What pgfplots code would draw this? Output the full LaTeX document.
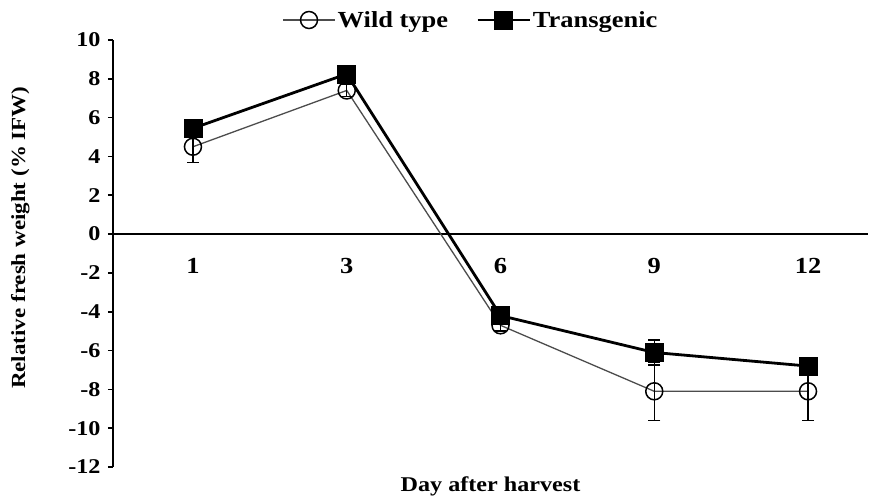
\documentclass[border=0pt]{standalone}
\usepackage{pgfplots}
\pgfplotsset{compat=1.18}
\usepackage{fontspec}
\setmainfont{Liberation Serif}[FakeStretch=1.15]
\begin{document}
\begin{tikzpicture}
\begin{axis}[
  scale only axis,
  width=755pt, height=427pt,
  xmin=-0.52, xmax=4.39,
  ymin=-12, ymax=10,
  axis x line=middle,
  axis y line=left,
  axis line style={-, line width=2pt},
  every inner x axis line/.append style={-, line width=2pt},
  every outer y axis line/.append style={-, line width=2pt},
  xtick={0,1,2,3,4},
  xticklabels={1,3,6,9,12},
  ytick={-12,-10,...,10},
  y tick label style={xshift=-4pt},
  xtick style={draw=none},
  ytick style={line width=1.6pt, black},
  major tick length=5pt,
  tick align=outside,
  /pgf/number format/assume math mode=true,
  tick label style={font=\fontsize{21}{24}\selectfont\bfseries},
  x tick label style={yshift=-16pt, font=\fontsize{23}{26}\selectfont\bfseries},
  xlabel style={font=\fontsize{21}{24}\selectfont\bfseries},
  ylabel style={font=\fontsize{20}{24}\selectfont\bfseries},
  xlabel={Day after harvest},
  xlabel style={at={(axis description cs:0.5,0)}, anchor=north, yshift=-6pt},
  ylabel={Relative fresh weight (\% IFW)},
  ylabel style={at={(axis description cs:0,0.537)}, anchor=south, rotate=0, yshift=80pt},
  clip=false,
  legend columns=2,
  legend style={at={(axis description cs:0.474,1)}, anchor=center, draw=none, fill=none,
    font=\fontsize{23}{26}\selectfont\bfseries, yshift=20pt,
    /tikz/every even column/.append style={column sep=26pt}},
  legend image code/.code={
    \draw[mark repeat=2,mark phase=2] plot coordinates {(0pt,0pt) (26pt,0pt) (52pt,0pt)};
  },
]
\addplot[color=black!70, line width=1.3pt, mark=o, mark size=8.5pt,
  mark options={draw=black, line width=1.5pt, fill=white, solid},
  error bars/.cd, y dir=both, y explicit,
  error bar style={line width=1.3pt, black},
  error mark options={rotate=90, mark size=6pt, line width=1.3pt, black}]
  coordinates {
  (0,4.5) +- (0,0.8)
  (1,7.4) +- (0,0.3)
  (2,-4.7) +- (0,0.3)
  (3,-8.1) +- (0,1.5)
  (4,-8.1) +- (0,1.5)
};
\addlegendentry{Wild type}
\addplot[color=black, line width=2.8pt, mark=square*, mark size=9pt,
  mark options={fill=black, line width=0.5pt, solid},
  error bars/.cd, y dir=both, y explicit,
  error bar style={line width=1.3pt, black},
  error mark options={rotate=90, mark size=6pt, line width=1.3pt, black}]
  coordinates {
  (0,5.45) +- (0,0.3)
  (1,8.25) +- (0,0.3)
  (2,-4.2) +- (0,0.4)
  (3,-6.1) +- (0,0.65)
  (4,-6.8) +- (0,0.3)
};
\addlegendentry{Transgenic}
\end{axis}
\pgfresetboundingbox
\path (current axis.south west) ++(-113pt,-30pt) rectangle ++(880pt,497pt);
\end{tikzpicture}
\end{document}
